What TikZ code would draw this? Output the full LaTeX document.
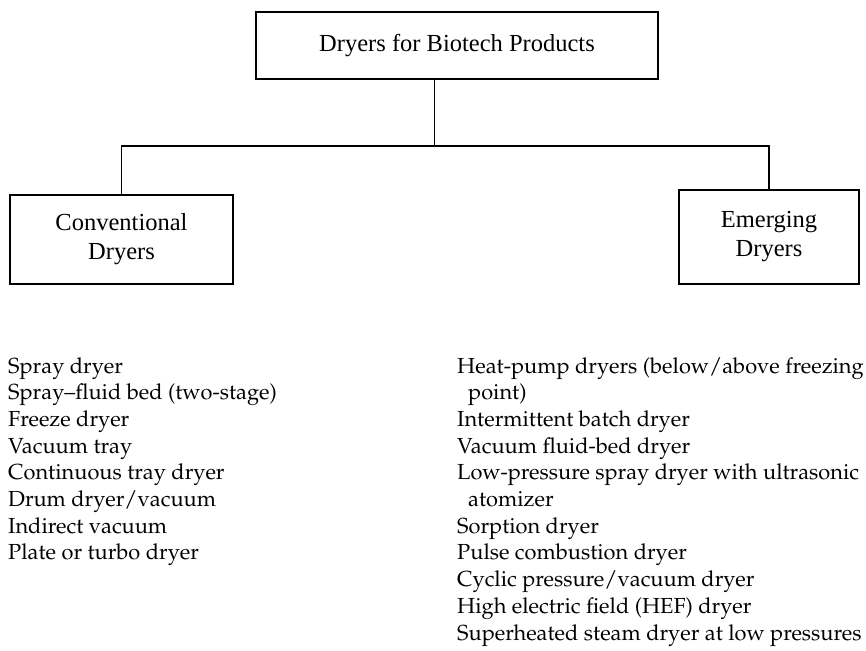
\documentclass[tikz,border=0pt]{standalone}
\usepackage[T1]{fontenc}
\usepackage{fontspec}
\setmainfont{Liberation Serif}
\newfontfamily\boxfont{Liberation Serif}
\newcommand\listfont{\fontencoding{T1}\fontfamily{ppl}\selectfont}
\newcommand\myslash{/}
\begin{document}
\begin{tikzpicture}[x=1pt,y=-1pt,
  box/.style={draw, line width=1.1pt, align=center, inner sep=0pt,
    font=\boxfont\fontsize{24.5}{29}\selectfont},
  item/.style={anchor=base west, inner sep=0pt, font=\listfont\fontsize{21.8}{26.7}\selectfont},
  conn/.style={line width=1.1pt}]
\useasboundingbox (0,0) rectangle (866,650);
\node[box, minimum width=402, minimum height=67] (top) at (457,45.5) {Dryers for Biotech Products};
\node[box, minimum width=223, minimum height=89] (conv) at (121.5,239.5) {Conventional\\Dryers};
\node[box, minimum width=180, minimum height=94] (emer) at (769,237) {Emerging\\Dryers};
\coordinate (j) at (434.5,146);
\draw[conn] (top.south -| j) -- (j);
\draw[conn] (conv.north) |- (j) -| (emer.north);
% left list
\foreach \t [count=\i from 0] in {Spray dryer, Spray--fluid bed (two-stage), Freeze dryer, Vacuum tray, Continuous tray dryer, Drum dryer\myslash vacuum, Indirect vacuum, Plate or turbo dryer}
  \node[item] (l\i) at (8, 373+\i*26.7) {\t};
% right list
\foreach \dx/\t [count=\i from 0] in {0/Heat-pump dryers (below\myslash above freezing, 11/point), 0/Intermittent batch dryer, 0/Vacuum fluid-bed dryer, 0/Low-pressure spray dryer with ultrasonic, 11/atomizer, 0/Sorption dryer, 0/Pulse combustion dryer, 0/Cyclic pressure\myslash vacuum dryer, 0/High electric field (HEF) dryer, 0/Superheated steam dryer at low pressures}
  \node[item] (r\i) at (457+\dx, 373+\i*26.7) {\t};
\end{tikzpicture}
\end{document}
